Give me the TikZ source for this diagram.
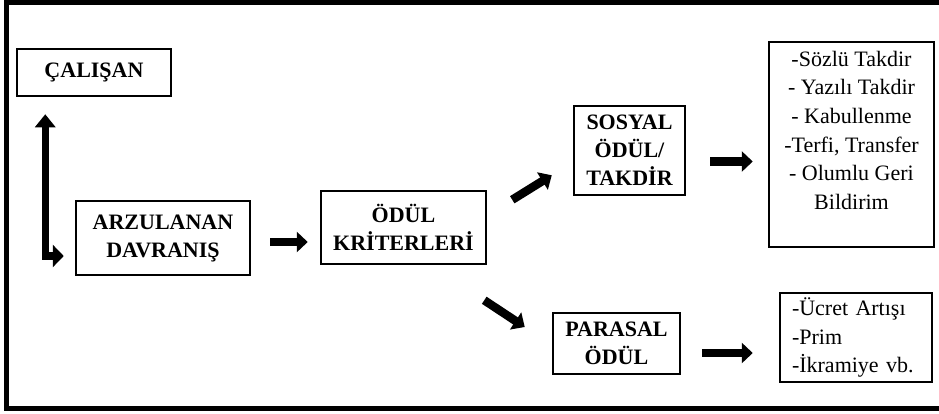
\documentclass[tikz,border=0pt]{standalone}
\usepackage{fontspec}
\setmainfont{Liberation Serif}
\usetikzlibrary{arrows.meta}
\begin{document}
\begin{tikzpicture}[x=1pt,y=1pt,
    kutu/.style={draw,line width=2.5pt,align=center,inner sep=0pt,
                 font=\fontsize{22}{28}\selectfont\bfseries},
    liste/.style={draw,line width=2.5pt,inner sep=0pt,
                  font=\fontsize{22}{28.7}\selectfont},
    ok/.style={line width=8.5pt,line join=miter,
               -{Triangle[length=11pt,width=20pt]}}]
            \useasboundingbox (0,0) rectangle (939,-413);
            {
            % Drawing frame
            \draw [line width=5pt,line join=miter] (939,-2.5) -- (6,-2.5) -- (6,-408) -- (939,-408);%

            % Drawing box calisan
            \draw (94,-72.5) node [kutu,minimum width=154,minimum height=47] (calisan) {ÇALIŞAN};%

            % Drawing box arz
            \draw (163,-238) node [kutu,minimum width=174,minimum height=74] (arz) {ARZULANAN\\DAVRANIŞ};%

            % Drawing box odul
            \draw (403.5,-227.5) node [kutu,minimum width=165,minimum height=73] (odul) {ÖDÜL\\KRİTERLERİ};%

            % Drawing box sosyal
            \draw (629.5,-150.5) node [kutu,minimum width=111,minimum height=89] (sosyal) {SOSYAL\\ÖDÜL/\\TAKDİR};%

            % Drawing box parasal
            \draw (616.5,-343.5) node [kutu,minimum width=127,minimum height=61] (parasal) {PARASAL\\ÖDÜL};%

            % Drawing list of social rewards
            \draw (851.5,-144.5) node [liste,align=center,minimum width=165,minimum height=205] (takdir)
                {-Sözlü Takdir\\ - Yazılı Takdir\\ - Kabullenme\\-Terfi, Transfer\\ - Olumlu Geri\\Bildirim\\ \mbox{}};%

            % Drawing list of monetary rewards
            \draw (856,-337.5) node [liste,align=left,text width=128,inner xsep=12pt,minimum height=89] (para)
                {-Ücret Artışı\\-Prim\\-İkramiye vb.};%

            % Drawing arrow calisan arz
            \draw [ok,{Triangle[length=13pt,width=20pt]}-{Triangle[length=11pt,width=22pt]},line width=7.5pt]
                ([xshift=29.5pt,yshift=-17pt]calisan.south west) |- ([xshift=-11pt,yshift=-18pt]arz.west);%

            % Drawing arrow arz odul
            \draw [ok] ([xshift=19pt,yshift=-4pt]arz.east) -- ([xshift=-12pt,yshift=-14.5pt]odul.west);%

            % Drawing arrow odul sosyal
            \draw [ok] ([xshift=25pt,yshift=-10pt]odul.north east) -- ([xshift=-21pt,yshift=21pt]sosyal.south west);%

            % Drawing arrow odul parasal
            \draw [ok] ([xshift=-3pt,yshift=-35pt]odul.south east) -- ([xshift=-27pt,yshift=16.5pt]parasal.west);%

            % Drawing arrow sosyal takdir
            \draw [ok] ([xshift=24pt,yshift=-11pt]sosyal.east) -- ([xshift=-15pt,yshift=-17pt]takdir.west);%

            % Drawing arrow parasal para
            \draw [ok] ([xshift=21pt,yshift=-9.5pt]parasal.east) -- ([xshift=-26pt,yshift=-15.5pt]para.west);%
            }
        \end{tikzpicture}
\end{document}
